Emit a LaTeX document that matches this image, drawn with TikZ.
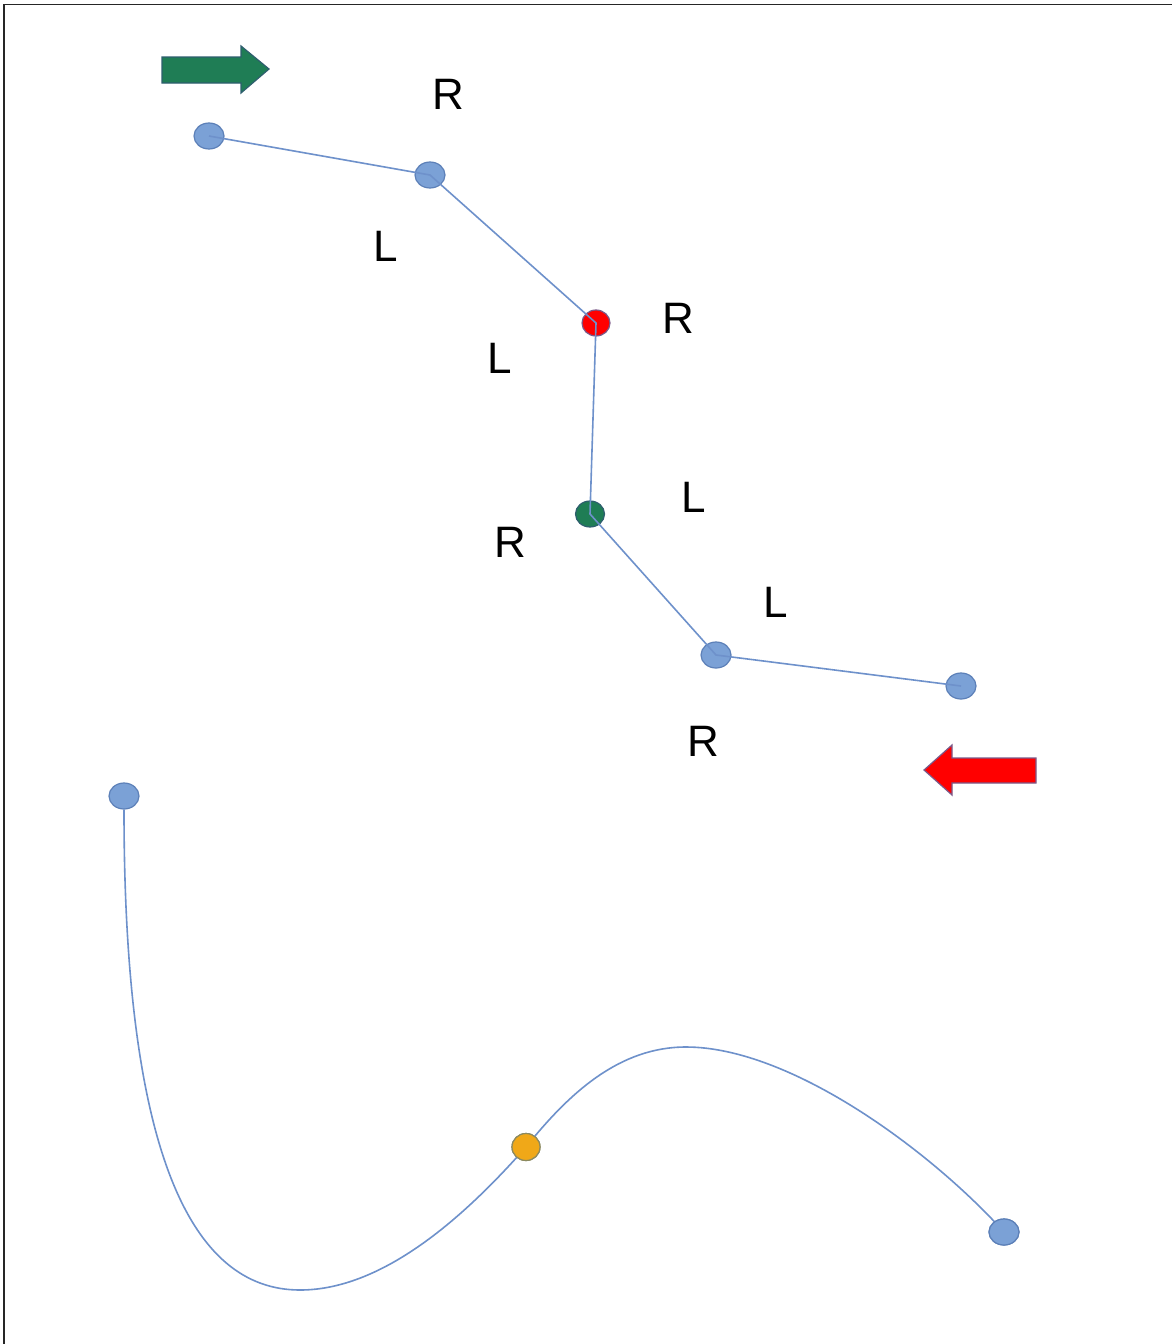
\documentclass[tikz,border=0pt]{standalone}
\usepackage{fontspec}
\setmainfont{Liberation Sans}
\usetikzlibrary{shapes.geometric}
\definecolor{nodeblue}{HTML}{7BA1D6}
\definecolor{nodeedge}{HTML}{5C80B8}
\definecolor{linkblue}{HTML}{6E91CB}
\definecolor{darkgreen}{HTML}{1F7D55}
\definecolor{greenedge}{HTML}{2E5E6E}
\definecolor{orangefill}{HTML}{F0A818}
\definecolor{orangeedge}{HTML}{8C8A60}
\definecolor{redfill}{HTML}{FF0000}
\definecolor{rededge}{HTML}{7A5A8A}
\tikzset{
  joint/.style={ellipse, draw=nodeedge, fill=nodeblue, line width=1.2pt, minimum width=30pt, minimum height=26pt, inner sep=0pt},
  link/.style={draw=linkblue, line width=1.6pt},
  lbl/.style={font=\fontsize{44}{44}\selectfont, inner sep=0pt, text=black},
  bigarrow/.style={line width=1.2pt, line join=miter}
}
\begin{document}
\begin{tikzpicture}[x=1pt,y=-1pt]
\useasboundingbox (0,0) rectangle (1172,1344);
\fill[white] (0,0) rectangle (1172,1344);
% frame (top and left only)
\draw[line width=1.8pt, black!85] (4,1344) -- (4,4.5) -- (1172,4.5);

% arrows
\draw[bigarrow, fill=darkgreen, draw=greenedge]
  (162,57) -- (241,57) -- (241,46) -- (269,69) -- (241,93) -- (241,83) -- (162,83) -- cycle;
\draw[bigarrow, fill=redfill, draw=rededge]
  (1036,758) -- (952,758) -- (952,745) -- (924,770) -- (952,795) -- (952,783) -- (1036,783) -- cycle;

% joints of the upper chain
\node[joint] (a) at (209,136) {};
\node[joint] (b) at (430,175) {};
\node[joint, fill=redfill, draw=rededge, minimum width=28pt] (c) at (596,323) {};
\node[joint, fill=darkgreen, draw=greenedge, minimum width=29pt] (d) at (590,514) {};
\node[joint] (e) at (716,655) {};
\node[joint] (f) at (961,686) {};

\draw[link] (a.center) -- (b.center) -- (c.center) -- (d.center) -- (e.center) -- (f.center);

% lower curve
\node[joint] (g) at (124,796) {};
\node[joint, fill=orangefill, draw=orangeedge, minimum width=28pt, minimum height=27pt] (h) at (526,1147) {};
\node[joint] (i) at (1004,1232) {};
\coordinate (low) at (300,1290);
\coordinate (peak) at (686,1047);
\draw[link] (g.south) .. controls (124,1150) and (190,1290) .. (low)
  .. controls (380,1290) and (460,1222) .. (h.center);
\draw[link] (h.center) .. controls (570,1092) and (620,1047) .. (peak)
  .. controls (790,1047) and (930,1150) .. (i.center);
\node[joint, fill=orangefill, draw=orangeedge, minimum width=28pt, minimum height=27pt] at (h) {};
\node[joint] at (i) {};

% labels
\node[lbl] (r1) at (448,94) {R};
\node[lbl] (l1) at (386,246) {L};
\node[lbl] (r2) at (678,318) {R};
\node[lbl] (l2) at (500,358) {L};
\node[lbl] (l3) at (694,497) {L};
\node[lbl] (r3) at (510,542) {R};
\node[lbl] (l4) at (776,602) {L};
\node[lbl] (r4) at (703,741) {R};
\end{tikzpicture}
\end{document}
